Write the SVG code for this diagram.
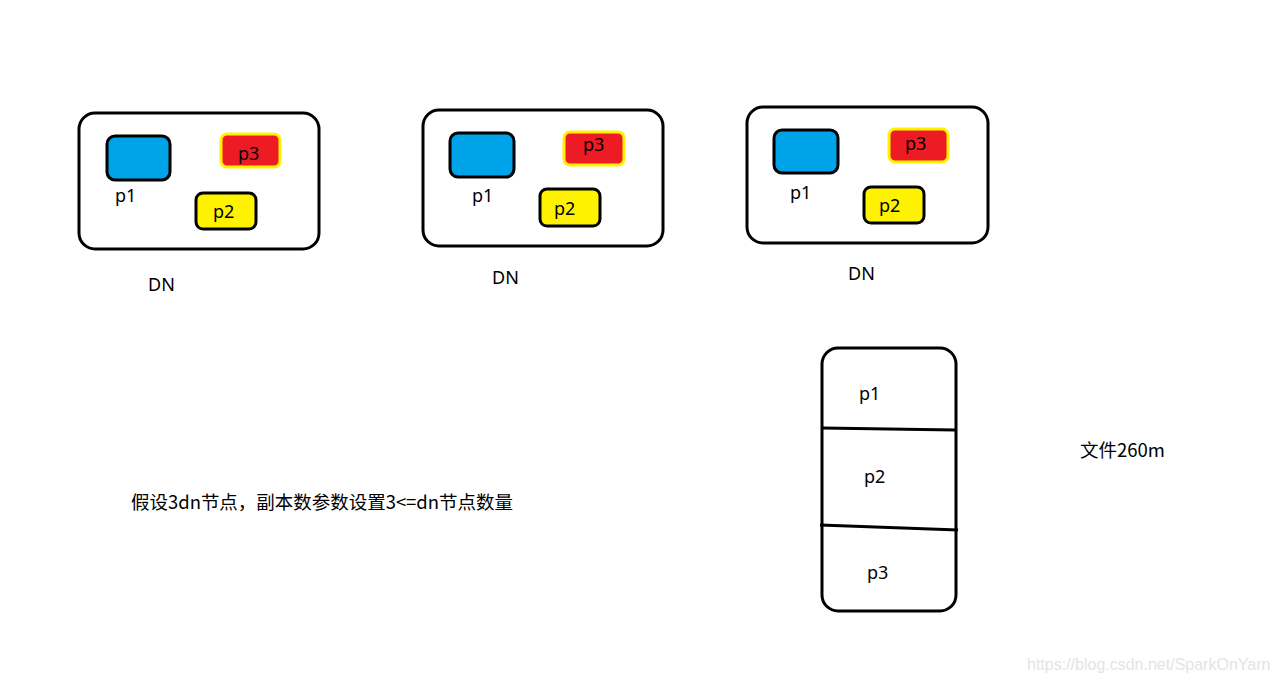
<svg xmlns="http://www.w3.org/2000/svg" width="1277" height="682" viewBox="0 0 1277 682">
<style>
.dn{fill:#fff;stroke:#000;stroke-width:3}
.blue{fill:#00a2e8;stroke:#000;stroke-width:3}
.red{fill:#ed1c24;stroke:#fff200;stroke-width:3}
.yel{fill:#fff200;stroke:#000;stroke-width:3}
.t{font-family:"Noto Sans","Noto Sans CJK SC",sans-serif;font-size:18px;fill:#000}
.c{font-family:"Noto Sans CJK SC",sans-serif;font-size:18.5px;fill:#000}
.wm{font-family:"Liberation Sans",sans-serif;font-size:16px;fill:#e4e4e4}
.ln{stroke:#000;stroke-width:3;fill:none}
</style>
<rect width="1277" height="682" fill="#fff"/>
<g id="dn1">
<rect class="dn" x="79" y="113" width="240" height="136" rx="16"/>
<rect class="blue" x="107" y="136" width="63" height="44" rx="8"/>
<rect class="red" x="221" y="134" width="59" height="33" rx="6"/>
<rect class="yel" x="196" y="193" width="60" height="36" rx="7"/>
<text class="t" x="115" y="202">p1</text>
<text class="t" x="238" y="160">p3</text>
<text class="t" x="213" y="218">p2</text>
<text class="t" x="148" y="291">DN</text>
</g>
<g id="dn2">
<rect class="dn" x="423" y="110" width="240" height="136" rx="16"/>
<rect class="blue" x="450" y="133" width="64" height="44" rx="8"/>
<rect class="red" x="564" y="132" width="60" height="33" rx="6"/>
<rect class="yel" x="540" y="189" width="60" height="37" rx="7"/>
<text class="t" x="472" y="202">p1</text>
<text class="t" x="583" y="151">p3</text>
<text class="t" x="554" y="215">p2</text>
<text class="t" x="492" y="284">DN</text>
</g>
<g id="dn3">
<rect class="dn" x="747" y="107" width="241" height="136" rx="16"/>
<rect class="blue" x="774" y="130" width="64" height="43" rx="8"/>
<rect class="red" x="889" y="129" width="59" height="33" rx="6"/>
<rect class="yel" x="864" y="187" width="60" height="36" rx="7"/>
<text class="t" x="790" y="199">p1</text>
<text class="t" x="905" y="150">p3</text>
<text class="t" x="879" y="212">p2</text>
<text class="t" x="848" y="280">DN</text>
</g>
<g id="file">
<rect class="dn" x="822" y="348" width="134" height="263" rx="16"/>
<text class="t" x="859" y="400">p1</text>
<text class="t" x="864" y="483">p2</text>
<text class="t" x="867" y="579">p3</text>
</g>
<g id="connectors">
<path class="ln" d="M822 428 L955 430"/>
<path class="ln" d="M820 525 L958 530"/>
</g>
<text class="c" x="131" y="509" textLength="382" lengthAdjust="spacing">假设3dn节点，副本数参数设置3&lt;=dn节点数量</text>
<text class="c" x="1080" y="457">文件260m</text>
<text class="wm" x="1027" y="670">https://blog.csdn.net/SparkOnYarn</text>
</svg>
